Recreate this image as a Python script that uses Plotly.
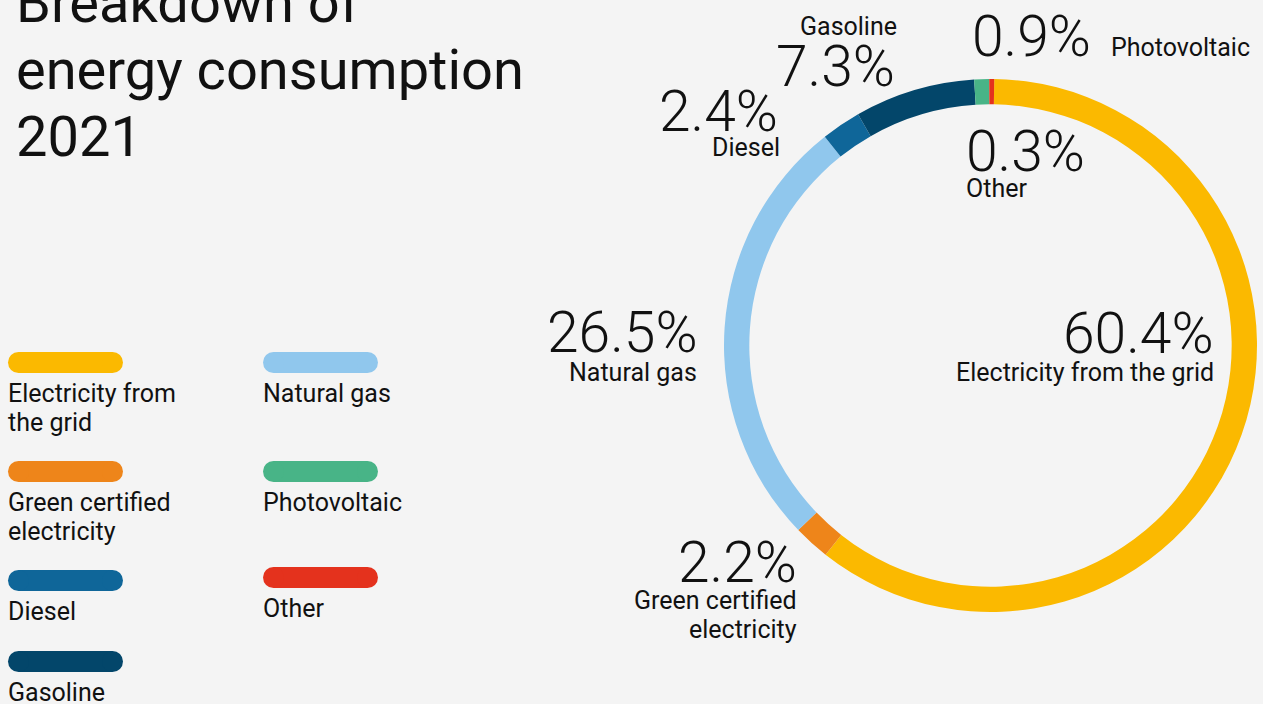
import plotly.graph_objects as go

# ---------------- data ----------------
categories = ["Electricity from the grid", "Green certified electricity", "Natural gas",
              "Diesel", "Gasoline", "Photovoltaic", "Other"]
shares = [60.4, 2.2, 26.5, 2.4, 7.3, 0.9, 0.3]
colors = ["#fbb900", "#ee851a", "#90c7ed", "#0f6699", "#03466a", "#48b487", "#e4321d"]
title_lines = ["Breakdown of", "energy consumption", "2021"]
legend_lines = {
    "Electricity from the grid": ["Electricity from", "the grid"],
    "Green certified electricity": ["Green certified", "electricity"],
    "Natural gas": ["Natural gas"],
    "Diesel": ["Diesel"],
    "Gasoline": ["Gasoline"],
    "Photovoltaic": ["Photovoltaic"],
    "Other": ["Other"],
}
donut_name_lines = {
    "Electricity from the grid": ["Electricity from the grid"],
    "Green certified electricity": ["Green certified", "electricity"],
    "Natural gas": ["Natural gas"],
    "Diesel": ["Diesel"],
    "Gasoline": ["Gasoline"],
    "Photovoltaic": ["Photovoltaic"],
    "Other": ["Other"],
}

# ---------------- layout constants ----------------
W, H = 1263, 704
BG = "#f4f4f4"
FONT = "Roboto, 'Noto Sans', sans-serif"
ASC_OFF = 0.342  # baseline -> middle of text box (em)


def X(px):
    return px / W


def Y(py):
    return 1 - py / H


def mid(baseline, fs):
    return Y(baseline - ASC_OFF * fs)


annotations = []

# title
FS_TITLE = 56
for line, base in zip(title_lines, [22, 89, 156]):
    annotations.append(dict(text=line, x=X(14), y=mid(base, FS_TITLE), xref="paper", yref="paper",
                            xanchor="left", yanchor="middle", showarrow=False,
                            font=dict(family=FONT, size=FS_TITLE, color="#111111")))

# donut
cx, cy, R = 990.5, 345.5, 266.5
fig = go.Figure(go.Pie(
    labels=categories, values=shares, marker=dict(colors=colors, line=dict(width=0)),
    hole=0.905, sort=False, direction="clockwise", rotation=0.8,
    textinfo="none", showlegend=False,
    domain=dict(x=[X(cx - R), X(cx + R)], y=[Y(cy + R), Y(cy - R)]),
))

# donut labels: (pct x, pct anchor, pct baseline, name x, name anchor, name baselines)
label_pos = {
    "Electricity from the grid": (1216, "right", 353, 1216, "right", [381]),
    "Green certified electricity": (799, "right", 582, 799, "right", [609, 638]),
    "Natural gas": (700, "right", 352, 699, "right", [381]),
    "Diesel": (780, "right", 131, 782, "right", [156]),
    "Gasoline": (897, "right", 86, 899, "right", [35]),
    "Photovoltaic": (970, "left", 56, 1109, "left", [56]),
    "Other": (964, "left", 171, 964, "left", [197]),
}
FS_PCT, FS_LAB = 57, 25
for cat, val in zip(categories, shares):
    px_, pa, pb, nx, na, nbs = label_pos[cat]
    annotations.append(dict(text=f"{val:.1f}%", x=X(px_), y=mid(pb, FS_PCT), xref="paper", yref="paper",
                            xanchor=pa, yanchor="middle", showarrow=False,
                            font=dict(family=FONT, size=FS_PCT, color="#111111", weight=300)))
    for line, nb in zip(donut_name_lines[cat], nbs):
        annotations.append(dict(text=line, x=X(nx), y=mid(nb, FS_LAB), xref="paper", yref="paper",
                                xanchor=na, yanchor="middle", showarrow=False,
                                font=dict(family=FONT, size=FS_LAB, color="#111111")))

# legend (pill swatches + labels)
legend_pos = {
    "Electricity from the grid": (8, 352),
    "Green certified electricity": (8, 461),
    "Diesel": (8, 570),
    "Gasoline": (8, 651),
    "Natural gas": (263, 352),
    "Photovoltaic": (263, 461),
    "Other": (263, 567),
}
SW, SH = 115, 21
FS_LEG = 25
shapes = []
for cat, col in zip(categories, colors):
    lx, ty = legend_pos[cat]
    r = SH / 2
    shapes.append(dict(type="rect", xref="paper", yref="paper", x0=X(lx + r), x1=X(lx + SW - r),
                       y0=Y(ty + SH), y1=Y(ty), fillcolor=col, line=dict(width=0)))
    for ex in (lx, lx + SW - SH):
        shapes.append(dict(type="circle", xref="paper", yref="paper", x0=X(ex), x1=X(ex + SH),
                           y0=Y(ty + SH), y1=Y(ty), fillcolor=col, line=dict(width=0)))
    for i, line in enumerate(legend_lines[cat]):
        base = ty + 50 + 29 * i
        annotations.append(dict(text=line, x=X(lx - 2), y=mid(base, FS_LEG), xref="paper", yref="paper",
                                xanchor="left", yanchor="middle", showarrow=False,
                                font=dict(family=FONT, size=FS_LEG, color="#111111")))

fig.update_layout(
    width=W, height=H, margin=dict(l=0, r=0, t=0, b=0),
    paper_bgcolor=BG, plot_bgcolor=BG,
    annotations=annotations, shapes=shapes, showlegend=False,
)
fig.write_html(
    "out.html",
    config={"displayModeBar": False},
    post_script="document.body.style.margin='0px';document.body.style.overflow='hidden';"
                "document.body.style.background='" + BG + "';",
)
